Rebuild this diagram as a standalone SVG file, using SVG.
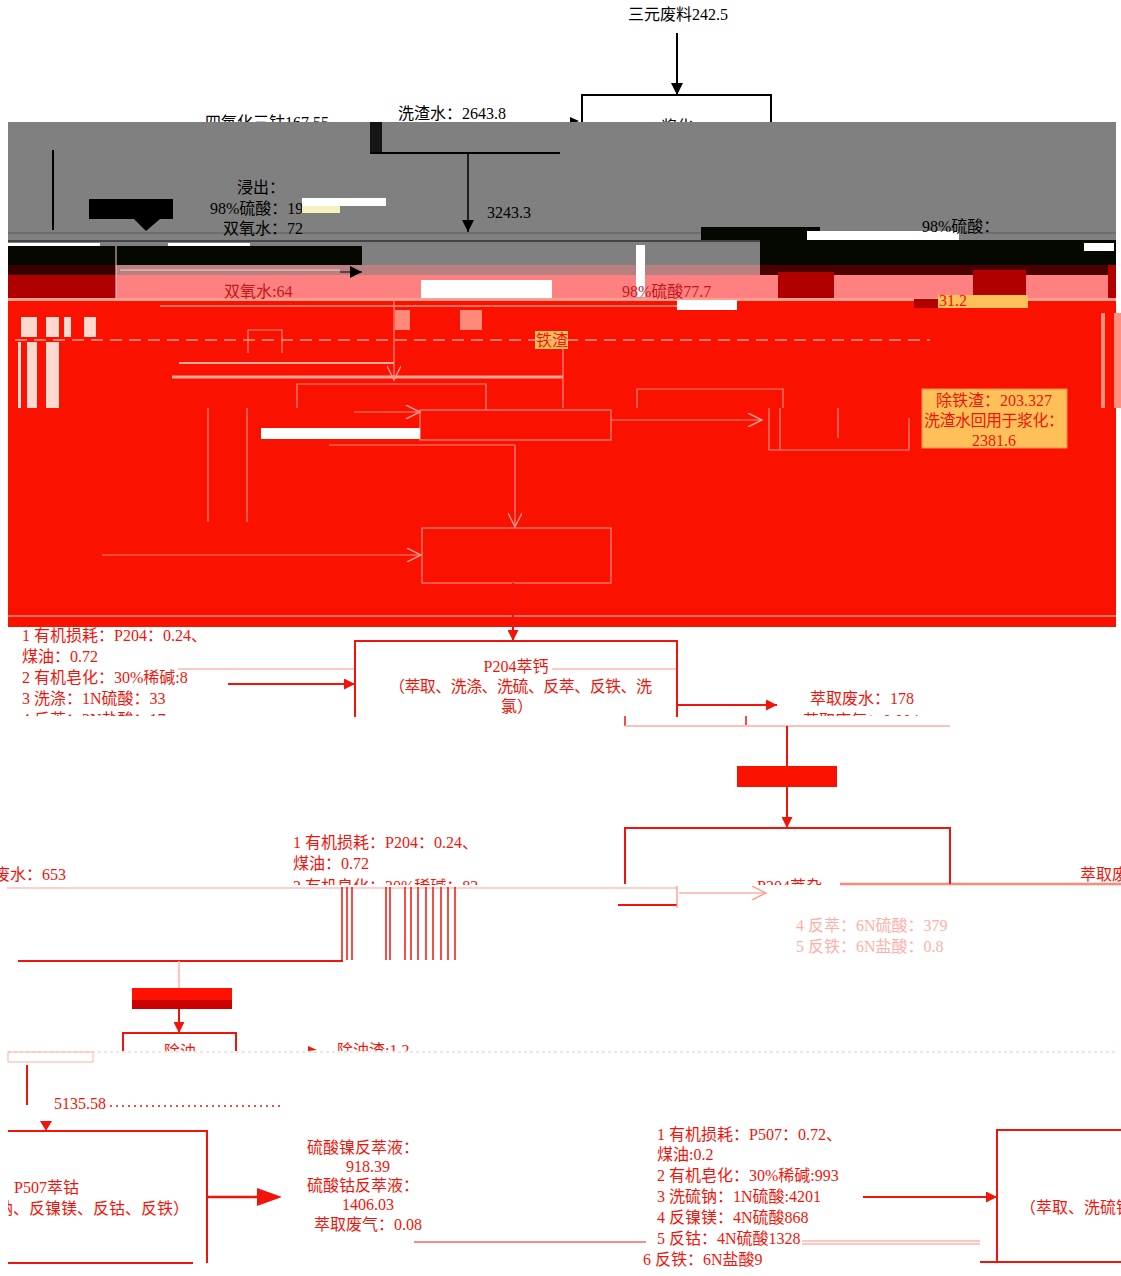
<svg xmlns="http://www.w3.org/2000/svg" width="1121" height="1276" viewBox="0 0 1121 1276">
<style>
.t{font-family:"Liberation Serif","Noto Sans CJK SC",serif;font-size:16px}
.k{fill:#000}
.r{fill:#F2140A}
.dr{fill:#C41818}
.fp{fill:#FFB0A6}
.ln{stroke:#F2140A;stroke-width:2;fill:none}
.lk{stroke:#000;stroke-width:2;fill:none}
.lp{stroke:#FF8C80;stroke-width:1.2;fill:none}
.lw{stroke:#FFE0DA;stroke-width:1.5;fill:none}
</style>
<defs>
<marker id="ak" viewBox="0 0 10 10" refX="10" refY="5" markerWidth="12" markerHeight="12" markerUnits="userSpaceOnUse" orient="auto"><path d="M0,0 L10,5 L0,10 z" fill="#000"/></marker>
<marker id="ar" viewBox="0 0 10 10" refX="10" refY="5" markerWidth="11" markerHeight="11" markerUnits="userSpaceOnUse" orient="auto"><path d="M0,0 L10,5 L0,10 z" fill="#F2140A"/></marker>
<marker id="ah" viewBox="0 0 10 10" refX="10" refY="5" markerWidth="18" markerHeight="14" markerUnits="userSpaceOnUse" orient="auto"><path d="M0,0 L10,5 L0,10" fill="none" stroke="#FF9C90" stroke-width="1"/></marker>
<clipPath id="cpA"><rect x="0" y="0" width="1121" height="716"/></clipPath>
<clipPath id="cpB"><rect x="0" y="0" width="1121" height="885"/></clipPath>
<clipPath id="cpC"><rect x="0" y="0" width="1121" height="1051"/></clipPath>
<clipPath id="cpD"><rect x="8" y="0" width="1113" height="1276"/></clipPath>
</defs>
<rect x="0" y="0" width="1121" height="1276" fill="#fff"/>

<g id="top-labels">
<text class="t k" x="678" y="20" text-anchor="middle">三元废料242.5</text>
<text class="t k" x="398" y="119">洗渣水：2643.8</text>
<text class="t k" x="205" y="128">四氧化三钴167.55</text>
</g>
<g id="n-slurry">
<rect x="582" y="95" width="189" height="60" fill="#fff" stroke="#000" stroke-width="2"/>
<text class="t k" x="677" y="132" text-anchor="middle">浆化</text>
<path d="M570,117 L579,121 L570,125 z" fill="#000"/>
</g>

<g id="glitch-bands">
<rect x="8" y="122" width="1108" height="143" fill="#808080"/>
<line x1="8" y1="233" x2="1116" y2="233" stroke="#5a5a5a" stroke-width="1"/>
<line x1="8" y1="241" x2="1116" y2="241" stroke="#303030" stroke-width="1.5"/>
<rect x="701" y="227" width="119" height="13" fill="#050800"/>
<rect x="807" y="231" width="152" height="10" fill="#fff"/>
<rect x="7" y="243" width="93" height="4" fill="#fff"/>
<rect x="168" y="243" width="82" height="8" fill="#fff"/>
<rect x="8" y="246" width="354" height="19" fill="#050800"/>
<rect x="760" y="240" width="356" height="25" fill="#050800"/>
<rect x="1084" y="243" width="30" height="8" fill="#fff"/>
<rect x="8" y="265" width="108" height="10" fill="#3A0000"/>
<rect x="8" y="275" width="108" height="23" fill="#B00000"/>
<rect x="116" y="265" width="644" height="10" fill="#B88080"/>
<rect x="760" y="265" width="356" height="10" fill="#4A0000"/>
<rect x="116" y="275" width="1000" height="23" fill="#FF8080"/>
<line x1="116" y1="246" x2="116" y2="298" stroke="#FFD0D0" stroke-width="1"/>
<line x1="120" y1="270" x2="340" y2="270" stroke="#FFD0D0" stroke-width="1"/>
<rect x="778" y="272" width="56" height="26" fill="#B00000"/>
<rect x="973" y="270" width="53" height="27" fill="#B00000"/>
<rect x="1108" y="265" width="8" height="33" fill="#B00000"/>
<rect x="421" y="280" width="131" height="18" fill="#fff"/>
<rect x="636" y="245" width="9" height="52" fill="#fff"/>
<rect x="8" y="298" width="1108" height="329" fill="#FA1100"/>
<rect x="8" y="298" width="1108" height="3" fill="#FFA090"/>
<line x1="160" y1="306" x2="720" y2="306" stroke="#FF9080" stroke-width="1.5"/>
<rect x="677" y="300" width="60" height="10" fill="#fff"/>
<rect x="395" y="310" width="15" height="20" fill="#FF8A7A"/>
<rect x="460" y="310" width="22" height="20" fill="#FF8A7A"/>
<rect x="21" y="317" width="16" height="20" fill="#FFD8D0"/>
<rect x="46" y="317" width="13" height="20" fill="#FFD8D0"/>
<rect x="64" y="317" width="7" height="20" fill="#FFD8D0"/>
<rect x="84" y="317" width="12" height="20" fill="#FFD8D0"/>
<rect x="18" y="342" width="3" height="66" fill="#FFD8D0"/>
<rect x="27" y="342" width="10" height="66" fill="#FFD8D0"/>
<rect x="46" y="342" width="13" height="66" fill="#FFD8D0"/>
<rect x="1101" y="313" width="4" height="95" fill="#FF9080"/>
<rect x="1114" y="313" width="7" height="95" fill="#FF9080"/>
<line x1="8" y1="616" x2="1116" y2="616" stroke="#FFD0C8" stroke-width="1"/>
</g>

<g id="n-leach">
<rect x="370" y="122" width="12" height="31" fill="#151515"/>
<line class="lk" x1="370" y1="153" x2="560" y2="153"/>
<line class="lk" x1="53" y1="150" x2="53" y2="230"/>
<text class="t k" x="237" y="193">浸出：</text>
<text class="t k" x="210" y="214">98%硫酸：19</text>
<rect x="302" y="198" width="84" height="8" fill="#fff"/>
<rect x="302" y="206" width="38" height="7" fill="#F4F0C0"/>
<text class="t k" x="223" y="234">双氧水：72</text>
<rect x="89" y="199" width="84" height="20" fill="#000"/>
<path d="M134,219 L160,219 L146,231 z" fill="#000"/>
<text class="t k" x="487" y="218">3243.3</text>
<text class="t k" x="922" y="232">98%硫酸：</text>
</g>

<g id="red-zone-labels">
<text class="t dr" x="224" y="297">双氧水:64</text>
<text class="t dr" x="622" y="297">98%硫酸77.7</text>
<rect x="914" y="299" width="24" height="9" fill="#B00000"/>
<rect x="938" y="295" width="90" height="13" fill="#FFC05A"/>
<text class="t r" x="939" y="306">31.2</text>
<rect x="535" y="331" width="33" height="18" fill="#FFC05A"/>
<text class="t r" x="536" y="346">铁渣</text>
</g>

<g id="n-iron-slag">
<rect x="922" y="389" width="145" height="59" fill="#FFC05A" stroke="#FF8C50" stroke-width="1"/>
<text class="t r" x="994" y="406" text-anchor="middle">除铁渣：203.327</text>
<text class="t r" x="994" y="426" text-anchor="middle" textLength="140">洗渣水回用于浆化：</text>
<text class="t r" x="994" y="446" text-anchor="middle">2381.6</text>
</g>

<g id="red-zone-nodes">
<path class="lp" d="M248,353 V330 H282 V353"/>
<rect class="lp" x="420" y="410" width="191" height="30"/>
<rect x="261" y="428" width="159" height="11" fill="#fff"/>
<rect class="lp" x="422" y="528" width="189" height="55"/>
<path class="lp" d="M637,408 V389 H783 V408"/>
<path class="lp" d="M769,408 V450 H909 V418"/>
<line class="lp" x1="780" y1="408" x2="780" y2="450"/>
<line class="lp" x1="838" y1="408" x2="838" y2="438"/>
</g>

<g id="connectors">
<line class="lk" x1="677" y1="33" x2="677" y2="95" marker-end="url(#ak)"/>
<line x1="468" y1="153" x2="468" y2="232" stroke="#000" stroke-width="1.5" marker-end="url(#ak)"/>
<line x1="340" y1="272" x2="362" y2="272" stroke="#000" stroke-width="1" marker-end="url(#ak)"/>
<line x1="15" y1="340" x2="930" y2="340" stroke="#FF9A90" stroke-width="1.5" stroke-dasharray="12,7"/>
<line class="lw" x1="179" y1="363" x2="394" y2="363"/>
<line x1="172" y1="377" x2="563" y2="377" stroke="#FFA898" stroke-width="3"/>
<line class="lp" x1="394" y1="300" x2="394" y2="380" marker-end="url(#ah)"/>
<line class="lp" x1="563" y1="345" x2="563" y2="408"/>
<path class="lp" d="M297,408 V384 H486 V410"/>
<line class="lp" x1="354" y1="412" x2="420" y2="412" marker-end="url(#ah)"/>
<line class="lp" x1="612" y1="420" x2="762" y2="420" marker-end="url(#ah)"/>
<line class="lp" x1="208" y1="408" x2="208" y2="522"/>
<line class="lp" x1="247" y1="408" x2="247" y2="522"/>
<line class="lp" x1="329" y1="445" x2="515" y2="445"/>
<line class="lp" x1="515" y1="445" x2="515" y2="527" marker-end="url(#ah)"/>
<line class="lp" x1="102" y1="555" x2="421" y2="555" marker-end="url(#ah)"/>
<line class="ln" x1="513" y1="583" x2="513" y2="641" marker-end="url(#ar)"/>
<line x1="178" y1="669" x2="354" y2="669" stroke="#FF9080" stroke-width="1"/>
<line x1="552" y1="669" x2="677" y2="669" stroke="#FF9080" stroke-width="1"/>
<line class="ln" x1="228" y1="684" x2="355" y2="684" marker-end="url(#ar)"/>
<line class="ln" x1="677" y1="705" x2="777" y2="705" marker-end="url(#ar)"/>
<path d="M625,716 V726 M746,716 V726" stroke="#F2140A" stroke-width="1.5"/>
<line x1="625" y1="726" x2="950" y2="726" stroke="#FFC0B8" stroke-width="2"/>
<line class="ln" x1="787" y1="726" x2="787" y2="828" marker-end="url(#ar)"/>
<rect x="737" y="766" width="100" height="21" fill="#FA1100"/>
<line x1="7" y1="888" x2="677" y2="888" stroke="#FFC0B8" stroke-width="1.5"/>
<line class="ln" x1="618" y1="905" x2="677" y2="905"/>
<line class="lp" x1="677" y1="886" x2="677" y2="908"/>
<line x1="679" y1="893" x2="766" y2="893" stroke="#FFB0A6" stroke-width="1.5" marker-end="url(#ah)"/>
<line x1="840" y1="884" x2="1121" y2="884" stroke="#FF8878" stroke-width="2.5"/>
<g stroke="#F2140A" stroke-width="1.5">
<line x1="342" y1="887" x2="342" y2="960"/><line x1="347" y1="887" x2="347" y2="960"/><line x1="352" y1="887" x2="352" y2="960"/>
<line x1="386" y1="887" x2="386" y2="960"/><line x1="390" y1="887" x2="390" y2="960"/>
<line x1="405" y1="887" x2="405" y2="960"/><line x1="411" y1="887" x2="411" y2="960"/><line x1="418" y1="887" x2="418" y2="960"/>
<line x1="426" y1="887" x2="426" y2="960"/><line x1="433" y1="887" x2="433" y2="960"/><line x1="441" y1="887" x2="441" y2="960"/>
<line x1="448" y1="887" x2="448" y2="960"/><line x1="455" y1="887" x2="455" y2="960"/>
</g>
<line class="ln" x1="18" y1="961" x2="343" y2="961"/>
<line x1="179" y1="961" x2="179" y2="988" stroke="#FFB0A6" stroke-width="1.5"/>
<rect x="132" y="988" width="100" height="12" fill="#FF1000"/>
<rect x="132" y="1000" width="100" height="9" fill="#CC0000"/>
<line class="ln" x1="179" y1="1009" x2="179" y2="1033" marker-end="url(#ar)"/>
<path d="M308,1046 L317,1050 L308,1051 z" fill="#F2140A"/>
<line x1="8" y1="1052" x2="1116" y2="1052" stroke="#FFC0B8" stroke-width="1" stroke-dasharray="3,3"/>
<rect x="8" y="1052" width="85" height="10" fill="none" stroke="#FFB0A6" stroke-width="1"/>
<line class="ln" x1="27" y1="1065" x2="27" y2="1105"/>
<line x1="110" y1="1106" x2="280" y2="1106" stroke="#F2140A" stroke-width="1.5" stroke-dasharray="2,4"/>
<path d="M40,1121 L52,1121 L46,1131 z" fill="#F2140A"/>
<line x1="207" y1="1197" x2="258" y2="1197" stroke="#F2140A" stroke-width="2.5"/>
<path d="M257,1188 L282,1197 L257,1206 z" fill="#F2140A"/>
<line class="ln" x1="863" y1="1197" x2="997" y2="1197" marker-end="url(#ar)"/>
<line x1="414" y1="1242" x2="646" y2="1242" stroke="#F2140A" stroke-width="1"/>
<line x1="802" y1="1241" x2="980" y2="1241" stroke="#FF8C80" stroke-width="1"/>
<line x1="802" y1="1244" x2="980" y2="1244" stroke="#FF8C80" stroke-width="1"/>
<line class="ln" x1="980" y1="1262" x2="997" y2="1262"/>
</g>

<g id="n-p204ca">
<path class="ln" d="M355,717 V641 H677 V717"/>
<text class="t r" x="516" y="672" text-anchor="middle">P204萃钙</text>
<text class="t r" x="389" y="692" textLength="263">（萃取、洗涤、洗硫、反萃、反铁、洗</text>
<text class="t r" x="501" y="712">氯）</text>
</g>
<g id="l-p204ca-in">
<text class="t r" x="22" y="641">1 有机损耗：P204：0.24、</text>
<text class="t r" x="22" y="662">煤油：0.72</text>
<text class="t r" x="22" y="683">2 有机皂化：30%稀碱:8</text>
<text class="t r" x="22" y="704">3 洗涤：1N硫酸：33</text>
<text class="t r" x="22" y="725" clip-path="url(#cpA)">4 反萃：3N盐酸：17</text>
</g>
<g id="l-p204ca-out">
<text class="t r" x="810" y="704">萃取废水：178</text>
<text class="t r" x="803" y="726" clip-path="url(#cpA)">萃取废气：0.004</text>
</g>

<g id="n-p204za">
<path class="ln" d="M625,884 V828 H950 V884"/>
<text class="t r" x="757" y="892" clip-path="url(#cpB)">P204萃杂</text>
<text class="t r" x="1080" y="880">萃取废水</text>
</g>
<g id="l-p204za-in">
<text class="t r" x="293" y="848">1 有机损耗：P204：0.24、</text>
<text class="t r" x="293" y="869">煤油：0.72</text>
<text class="t r" x="293" y="892" clip-path="url(#cpB)">2 有机皂化：30%稀碱：82</text>
<text class="t r" x="-6" y="880">废水：653</text>
<text class="t fp" x="796" y="931">4 反萃：6N硫酸：379</text>
<text class="t fp" x="796" y="952">5 反铁：6N盐酸：0.8</text>
</g>

<g id="n-oil">
<path class="ln" d="M123,1051 V1033 H236 V1051"/>
<text class="t r" x="180" y="1057" text-anchor="middle" clip-path="url(#cpC)">除油</text>
<text class="t r" x="337" y="1056" clip-path="url(#cpC)">除油渣:1.2</text>
<text class="t r" x="54" y="1109">5135.58</text>
</g>

<g id="n-p507">
<path class="ln" d="M8,1131 H207 V1263"/>
<line class="ln" x1="8" y1="1263" x2="193" y2="1263"/>
<text class="t r" x="14" y="1193">P507萃钴</text>
<text class="t r" x="-3" y="1214" clip-path="url(#cpD)">钠、反镍镁、反钴、反铁）</text>
</g>
<g id="l-p507-out">
<text class="t r" x="363" y="1153" text-anchor="middle">硫酸镍反萃液：</text>
<text class="t r" x="368" y="1172" text-anchor="middle">918.39</text>
<text class="t r" x="363" y="1191" text-anchor="middle">硫酸钴反萃液：</text>
<text class="t r" x="368" y="1210" text-anchor="middle">1406.03</text>
<text class="t r" x="368" y="1230" text-anchor="middle">萃取废气：0.08</text>
</g>
<g id="l-p507-in">
<text class="t r" x="657" y="1140">1 有机损耗：P507：0.72、</text>
<text class="t r" x="657" y="1160">煤油:0.2</text>
<text class="t r" x="657" y="1181">2 有机皂化：30%稀碱:993</text>
<text class="t r" x="657" y="1202">3 洗硫钠：1N硫酸:4201</text>
<text class="t r" x="657" y="1223">4 反镍镁：4N硫酸868</text>
<text class="t r" x="657" y="1244">5 反钴：4N硫酸1328</text>
<text class="t r" x="643" y="1265">6 反铁：6N盐酸9</text>
</g>
<g id="n-right">
<path class="ln" d="M1121,1130 H997 V1262 H1121"/>
<text class="t r" x="1020" y="1213">（萃取、洗硫钠</text>
</g>
</svg>
